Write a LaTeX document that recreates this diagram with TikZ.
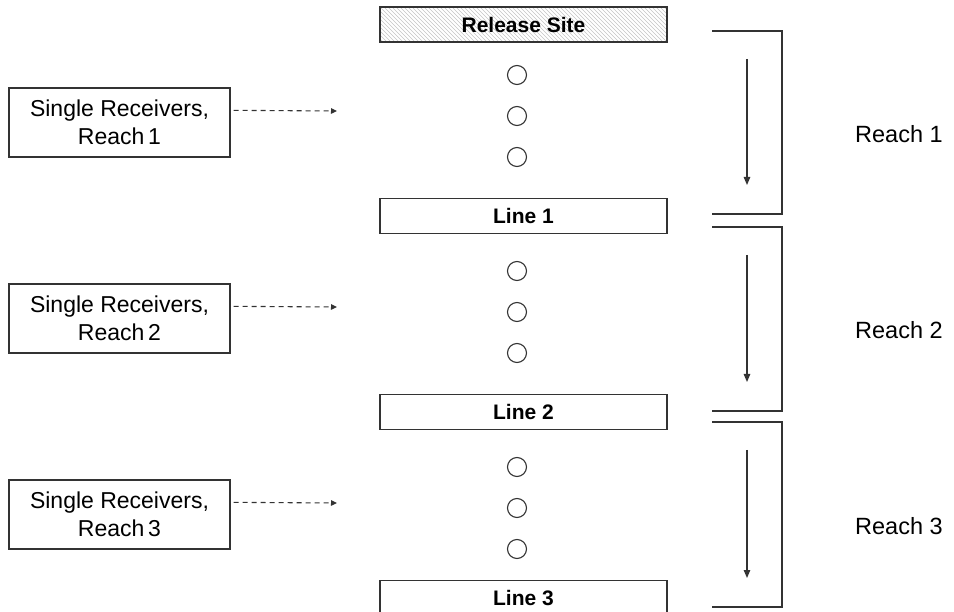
\documentclass[tikz,border=0pt]{standalone}
\usepackage{fontspec}
\setmainfont{Liberation Sans}
\usetikzlibrary{arrows.meta}

\definecolor{edge}{HTML}{333333}
\definecolor{hatch}{HTML}{C4C4C4}

\tikzset{
  linebox/.style={draw=edge, line width=1.4pt, minimum width=287pt, minimum height=35pt,
    inner sep=0pt, font=\fontsize{21}{24}\selectfont\bfseries},
  recvbox/.style={draw=edge, line width=1.3pt, minimum width=221pt, minimum height=69pt,
    inner sep=0pt, align=center, font=\fontsize{23}{28}\selectfont},
  receiver/.style={circle, draw=edge, line width=1.1pt, minimum size=19pt, inner sep=0pt},
  feed/.style={draw=edge, line width=1.1pt, dash pattern=on 5pt off 4pt,
    -{Triangle[length=6pt,width=5.5pt]}},
  flow/.style={draw=edge, line width=1.2pt, -{Triangle[length=8pt,width=6.5pt]}},
  bracket/.style={draw=edge, line width=1.3pt},
  reachlabel/.style={font=\fontsize{23.5}{27}\selectfont, inner sep=0pt}
}

\begin{document}
\begin{tikzpicture}[x=1pt, y=-1pt]
  \useasboundingbox (0,0) rectangle (954,612);

  % hatched fill of the release site
  \begin{scope}
    \clip (380,7) rectangle (667,42);
    \foreach \i in {0,4,...,340}
      \draw[hatch, line width=0.5pt] (340+\i,7) -- ++(35,35);
  \end{scope}

  % release site and detection lines
  \node[linebox] (rel) at (523.5,24.5) {Release Site};
  \node[linebox] (l1) at (523.5,216) {Line 1};
  \node[linebox] (l2) at (523.5,412) {Line 2};
  \node[linebox] (l3) at (523.5,598) {Line 3};

  % single receivers in each reach
  \foreach \r/\y in {1/75,2/271,3/467} {
    \node[receiver] (c\r a) at (517,\y) {};
    \node[receiver] (c\r b) at (517,\y+41) {};
    \node[receiver] (c\r c) at (517,\y+82) {};
  }

  % receiver boxes with dashed pointers
  \foreach \r/\y in {1/122.5,2/318.5,3/514.5} {
    \node[recvbox] (rb\r) at (119.5,\y) {Single Receivers,\\Reach\,\r};
    \coordinate (tip\r) at (337,\y-11.5);
    \draw[feed] ([xshift=3pt,yshift=-23pt]rb\r.north east) -- (tip\r);
  }

  % reach brackets, flow arrows and labels
  \foreach \r/\t/\b in {1/31/214,2/227/411,3/422/607} {
    \coordinate (bt\r) at (712,\t);
    \coordinate (bb\r) at (712,\b);
    \draw[bracket] (bt\r) -- ++(70,0) |- (bb\r);
    \coordinate (fs\r) at (747,\t+28);
    \coordinate (fe\r) at (747,\b-29);
    \draw[flow] (fs\r) -- (fe\r);
  }
  \node[reachlabel, anchor=west] (re1) at (855,134) {Reach 1};
  \node[reachlabel, anchor=west] (re2) at (855,330) {Reach 2};
  \node[reachlabel, anchor=west] (re3) at (855,526) {Reach 3};
\end{tikzpicture}
\end{document}
